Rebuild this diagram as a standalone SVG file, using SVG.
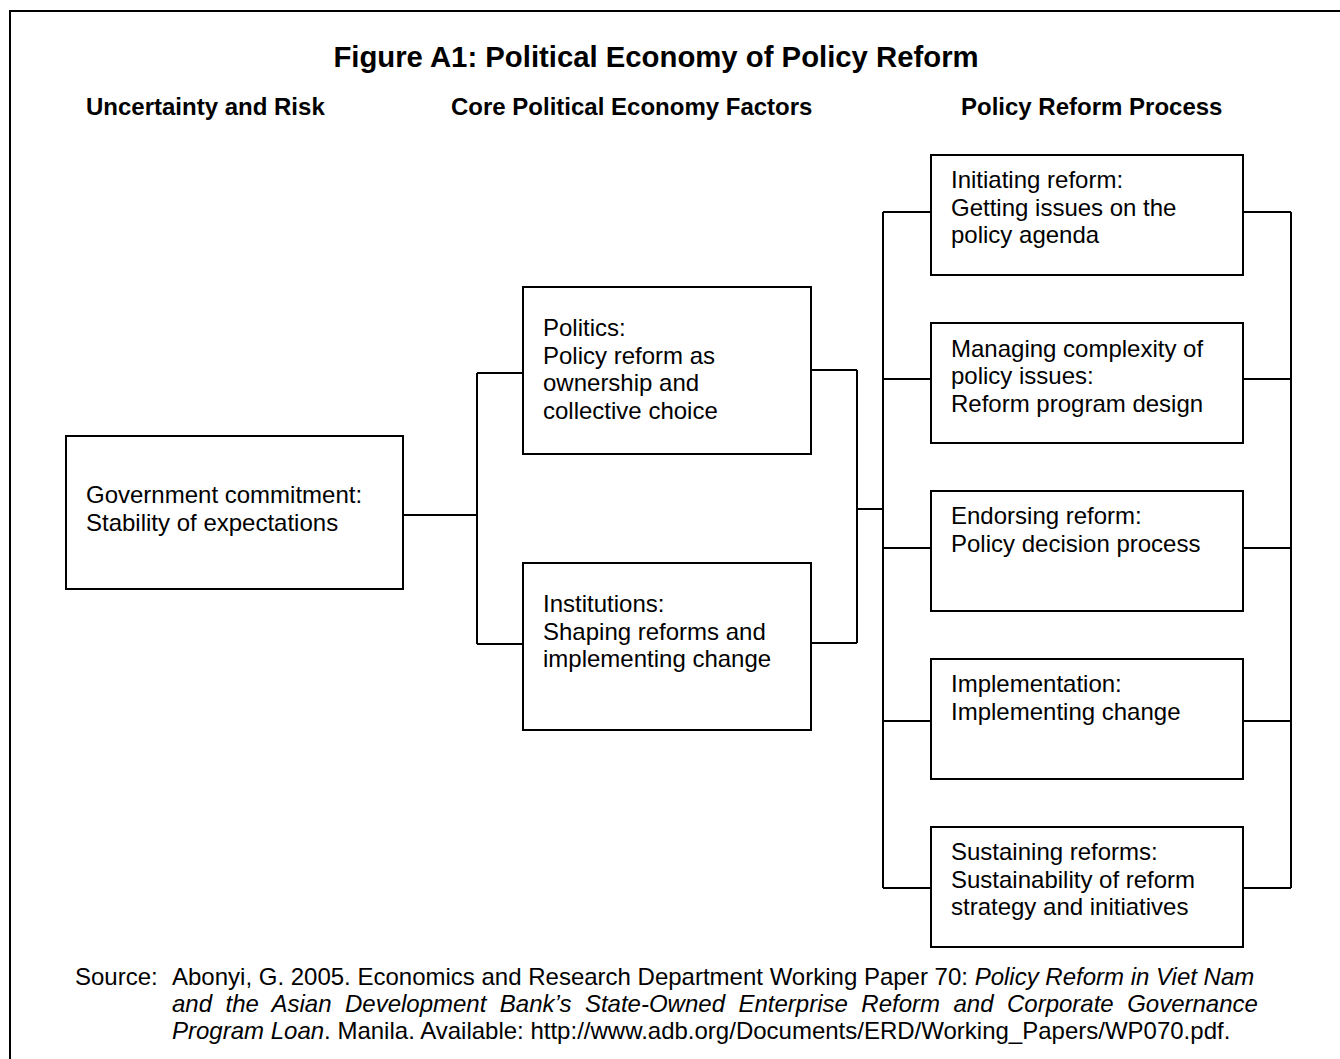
<svg xmlns="http://www.w3.org/2000/svg" width="1340" height="1059" viewBox="0 0 1340 1059">
  <style>
    text { font-family: "Liberation Sans", Arial, sans-serif; fill: #000; }
    .title { font-size: 29.3px; font-weight: bold; }
    .head { font-size: 24px; font-weight: bold; }
    .body { font-size: 24px; }
    .src { font-size: 24px; }
    .box { fill: #fff; stroke: #000; stroke-width: 2; }
    .wire { fill: none; stroke: #000; stroke-width: 2; }
  </style>

  <rect width="1340" height="1059" fill="#fff"/>
  <!-- page frame (continues past the right and bottom edges) -->
  <rect x="10" y="11" width="1400" height="1100" fill="none" stroke="#000" stroke-width="2"/>

  <!-- headings -->
  <text class="title" x="656" y="66.5" text-anchor="middle">Figure A1: Political Economy of Policy Reform</text>
  <text class="head" x="86" y="115">Uncertainty and Risk</text>
  <text class="head" x="451" y="115">Core Political Economy Factors</text>
  <text class="head" x="961" y="115">Policy Reform Process</text>

  <!-- connectors -->
  <g id="connectors" class="wire">
    <path d="M403,515 H477 M477,373 V644 M477,373 H523 M477,644 H523"/>
    <path d="M811,370 H857 M811,643 H857 M857,370 V643 M857,509 H883"/>
    <path d="M883,212 V888 M883,212 H931 M883,379 H931 M883,548 H931 M883,721 H931 M883,888 H931"/>
    <path d="M1291,212 V888 M1243,212 H1291 M1243,379 H1291 M1243,548 H1291 M1243,721 H1291 M1243,888 H1291"/>
  </g>

  <!-- left column -->
  <g id="government-commitment">
    <rect class="box" x="66" y="436" width="337" height="153"/>
    <text class="body" x="86"><tspan x="86" y="503">Government commitment:</tspan><tspan x="86" y="530.6">Stability of expectations</tspan></text>
  </g>

  <!-- middle column -->
  <g id="politics">
    <rect class="box" x="523" y="287" width="288" height="167"/>
    <text class="body"><tspan x="543" y="336">Politics:</tspan><tspan x="543" y="363.6">Policy reform as</tspan><tspan x="543" y="391.2">ownership and</tspan><tspan x="543" y="418.8">collective choice</tspan></text>
  </g>
  <g id="institutions">
    <rect class="box" x="523" y="563" width="288" height="167"/>
    <text class="body"><tspan x="543" y="612">Institutions:</tspan><tspan x="543" y="639.6">Shaping reforms and</tspan><tspan x="543" y="667.2">implementing change</tspan></text>
  </g>

  <!-- right column -->
  <g id="initiating-reform">
    <rect class="box" x="931" y="155" width="312" height="120"/>
    <text class="body"><tspan x="951" y="188">Initiating reform:</tspan><tspan x="951" y="215.6">Getting issues on the</tspan><tspan x="951" y="243.2">policy agenda</tspan></text>
  </g>
  <g id="managing-complexity">
    <rect class="box" x="931" y="323" width="312" height="120"/>
    <text class="body"><tspan x="951" y="356.5">Managing complexity of</tspan><tspan x="951" y="384.1">policy issues:</tspan><tspan x="951" y="411.7">Reform program design</tspan></text>
  </g>
  <g id="endorsing-reform">
    <rect class="box" x="931" y="491" width="312" height="120"/>
    <text class="body"><tspan x="951" y="524">Endorsing reform:</tspan><tspan x="951" y="551.6">Policy decision process</tspan></text>
  </g>
  <g id="implementation">
    <rect class="box" x="931" y="659" width="312" height="120"/>
    <text class="body"><tspan x="951" y="692">Implementation:</tspan><tspan x="951" y="719.6">Implementing change</tspan></text>
  </g>
  <g id="sustaining-reforms">
    <rect class="box" x="931" y="827" width="312" height="120"/>
    <text class="body"><tspan x="951" y="860">Sustaining reforms:</tspan><tspan x="951" y="887.6">Sustainability of reform</tspan><tspan x="951" y="915.2">strategy and initiatives</tspan></text>
  </g>

  <!-- source note -->
  <g id="source">
    <text class="src" x="75" y="985">Source:</text>
    <text class="src" x="172" y="985">Abonyi, G. 2005. Economics and Research Department Working Paper 70: <tspan font-style="italic">Policy Reform in Viet Nam</tspan></text>
    <text class="src" x="172" y="1012" font-style="italic" word-spacing="6.8">and the Asian Development Bank’s State-Owned Enterprise Reform and Corporate Governance</text>
    <text class="src" x="172" y="1039"><tspan font-style="italic">Program Loan</tspan>. Manila. Available: http://www.adb.org/Documents/ERD/Working_Papers/WP070.pdf.</text>
  </g>
</svg>
